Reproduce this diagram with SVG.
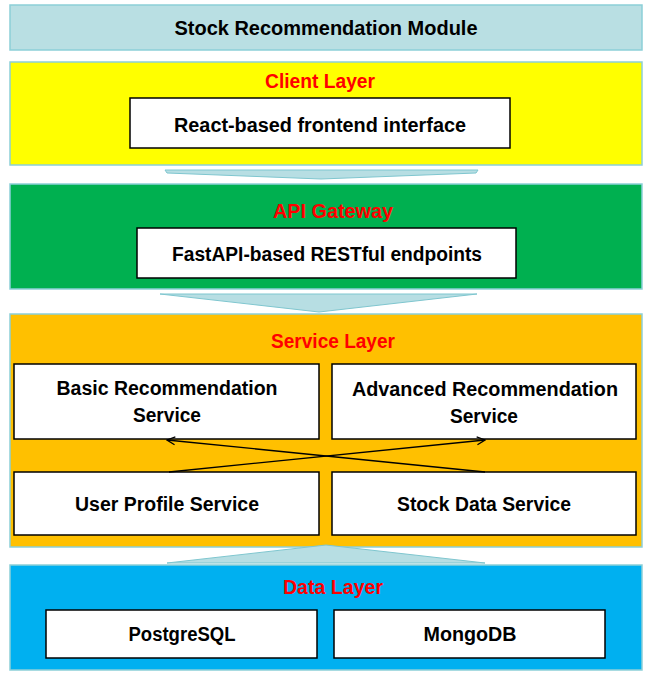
<svg xmlns="http://www.w3.org/2000/svg" width="651" height="675" viewBox="0 0 651 675">
<style>
.layer{stroke:#8ccfd8;stroke-width:1.5}
.box{fill:#ffffff;stroke:#000000;stroke-width:1.5}
.trap{fill:#b7dee3;stroke:#7fc6cf;stroke-width:1}
.t{font-family:"Liberation Sans",Arial,sans-serif;font-weight:bold;font-size:20px;fill:#000000;text-anchor:middle;dominant-baseline:central}
.h{font-family:"Liberation Sans",Arial,sans-serif;font-weight:bold;font-size:20px;fill:#ff0000;text-anchor:middle;dominant-baseline:central}
.conn{stroke:#000000;stroke-width:1.3;fill:none}
</style>
<defs>
<marker id="arr" viewBox="0 0 10 10" refX="9" refY="5" markerWidth="10" markerHeight="10" markerUnits="userSpaceOnUse" orient="auto">
<path d="M1,1 L9,5 L1,9" fill="none" stroke="#000000" stroke-width="1.3"/>
</marker>
</defs>
<g id="title">
<rect x="10" y="5" width="632" height="45" fill="#b9dfe3" class="layer"/>
<text class="t" x="326" y="28" textLength="303" lengthAdjust="spacingAndGlyphs">Stock Recommendation Module</text>
</g>
<g id="client-layer">
<rect x="10" y="62" width="632" height="103" fill="#ffff00" class="layer"/>
<text class="h" x="320" y="81" textLength="110" lengthAdjust="spacingAndGlyphs">Client Layer</text>
</g>
<g id="react-frontend">
<rect x="130" y="98" width="380" height="50" class="box"/>
<text class="t" x="320" y="125" textLength="292" lengthAdjust="spacingAndGlyphs">React-based frontend interface</text>
</g>
<g id="api-gateway">
<rect x="10" y="184" width="632" height="105" fill="#00b050" class="layer"/>
<text class="h" x="333" y="211" textLength="120" lengthAdjust="spacingAndGlyphs">API Gateway</text>
</g>
<g id="fastapi">
<rect x="137" y="228" width="379" height="50" class="box"/>
<text class="t" x="327" y="254" textLength="310" lengthAdjust="spacingAndGlyphs">FastAPI-based RESTful endpoints</text>
</g>
<g id="service-layer">
<rect x="10" y="314" width="632" height="233" fill="#ffc000" class="layer"/>
<text class="h" x="333" y="341" textLength="124" lengthAdjust="spacingAndGlyphs">Service Layer</text>
</g>
<g id="basic-rec">
<rect x="14" y="364" width="305" height="75" class="box"/>
<text class="t" x="167" y="388" textLength="221" lengthAdjust="spacingAndGlyphs">Basic Recommendation</text>
<text class="t" x="167" y="415" textLength="68" lengthAdjust="spacingAndGlyphs">Service</text>
</g>
<g id="advanced-rec">
<rect x="332" y="364" width="304" height="75" class="box"/>
<text class="t" x="485" y="389" textLength="266" lengthAdjust="spacingAndGlyphs">Advanced Recommendation</text>
<text class="t" x="484" y="416" textLength="68" lengthAdjust="spacingAndGlyphs">Service</text>
</g>
<g id="user-profile">
<rect x="14" y="472" width="305" height="63" class="box"/>
<text class="t" x="167" y="504" textLength="184" lengthAdjust="spacingAndGlyphs">User Profile Service</text>
</g>
<g id="stock-data">
<rect x="332" y="472" width="304" height="63" class="box"/>
<text class="t" x="484" y="504" textLength="174" lengthAdjust="spacingAndGlyphs">Stock Data Service</text>
</g>
<g id="data-layer">
<rect x="10" y="565" width="632" height="105" fill="#00b0f0" class="layer"/>
<text class="h" x="333" y="587" textLength="100" lengthAdjust="spacingAndGlyphs">Data Layer</text>
</g>
<g id="postgresql">
<rect x="46" y="610" width="271" height="48" class="box"/>
<text class="t" x="182" y="634" textLength="107" lengthAdjust="spacingAndGlyphs">PostgreSQL</text>
</g>
<g id="mongodb">
<rect x="334" y="610" width="271" height="48" class="box"/>
<text class="t" x="470" y="634" textLength="93" lengthAdjust="spacingAndGlyphs">MongoDB</text>
</g>
<g id="connectors">
<polygon class="trap" points="165,170 478,170 476,173 321,179 167,173"/>
<polygon class="trap" points="160,294 477,294 319,312"/>
<polygon class="trap" points="167,563 485,563 326,545"/>
<line class="conn" x1="169" y1="472" x2="485" y2="440" marker-end="url(#arr)"/>
<line class="conn" x1="485" y1="472" x2="167" y2="440" marker-end="url(#arr)"/>
</g>
</svg>
